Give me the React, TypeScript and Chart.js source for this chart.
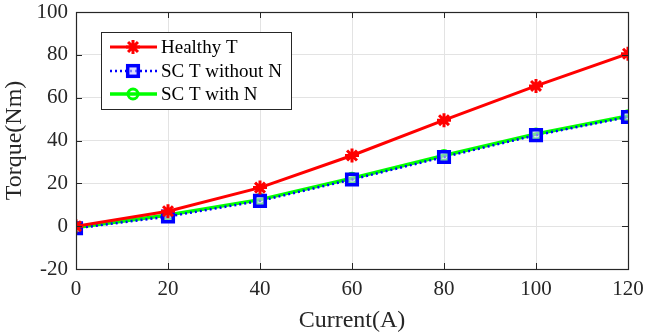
import React, { useEffect, useRef } from "react";
import { Chart, registerables } from "chart.js";

Chart.register(...registerables);

const currents = [0, 20, 40, 60, 80, 100, 120];
const healthyT = [0, 7, 18, 33, 49.5, 65.5, 80.5];
const scWithoutN = [-1, 4.5, 11.8, 21.8, 32.3, 42.5, 51];
const scWithN = [-0.6, 5.2, 12.4, 22.4, 33, 43, 51.5];
const xTicks = [0, 20, 40, 60, 80, 100, 120];
const yTicks = [-20, 0, 20, 40, 60, 80, 100];
const seriesNames = ["Healthy T", "SC T without N", "SC T with N"];

const FONT = '"Liberation Serif", "Times New Roman", serif';

const boxPlugin = {
  id: "boxAndLegend",
  afterDatasetsDraw(chart: any) {
    const { ctx, chartArea } = chart;
    const { left, right, top, bottom } = chartArea;
    ctx.save();
    ctx.strokeStyle = "#262626";
    ctx.lineWidth = 1;
    const xs = chart.scales.x;
    const ys = chart.scales.y;
    ctx.beginPath();
    xTicks.forEach((v) => {
      const px = Math.round(xs.getPixelForValue(v)) + 0.5;
      ctx.moveTo(px, bottom);
      ctx.lineTo(px, bottom - 6);
      ctx.moveTo(px, top);
      ctx.lineTo(px, top + 6);
    });
    yTicks.forEach((v) => {
      const py = Math.round(ys.getPixelForValue(v)) + 0.5;
      ctx.moveTo(left, py);
      ctx.lineTo(left + 6, py);
      ctx.moveTo(right, py);
      ctx.lineTo(right - 6, py);
    });
    ctx.stroke();
    ctx.lineWidth = 1.2;
    ctx.strokeStyle = "#262626";
    ctx.strokeRect(left + 0.5, top + 0.5, right - left, bottom - top);

    // legend
    const lx = 101, ly = 32, lw = 190, lh = 77;
    ctx.fillStyle = "#ffffff";
    ctx.fillRect(lx, ly, lw, lh);
    ctx.strokeStyle = "#262626";
    ctx.lineWidth = 1;
    ctx.strokeRect(lx + 0.5, ly + 0.5, lw, lh);
    const rows = [ly + 15, ly + 39, ly + 62];
    chart.data.datasets.forEach((ds: any, i: number) => {
      const y = rows[i];
      ctx.save();
      ctx.strokeStyle = ds.borderColor;
      ctx.lineWidth = ds.borderWidth;
      ctx.setLineDash(ds.borderDash || []);
      ctx.beginPath();
      ctx.moveTo(lx + 9, y);
      ctx.lineTo(lx + 56, y);
      ctx.stroke();
      ctx.restore();
      const cx = lx + 32;
      ctx.save();
      ctx.strokeStyle = ds.pointBorderColor;
      ctx.lineWidth = ds.pointBorderWidth;
      if (ds.pointStyle === "star") {
        const r = ds.pointRadius;
        ctx.beginPath();
        for (let k = 0; k < 4; k++) {
          const a = (k * Math.PI) / 4;
          ctx.moveTo(cx - r * Math.cos(a), y - r * Math.sin(a));
          ctx.lineTo(cx + r * Math.cos(a), y + r * Math.sin(a));
        }
        ctx.stroke();
      } else if (ds.pointStyle === "rect") {
        const r = ds.pointRadius / Math.SQRT2;
        ctx.fillStyle = ds.pointBackgroundColor;
        ctx.fillRect(cx - r, y - r, 2 * r, 2 * r);
        ctx.strokeRect(cx - r, y - r, 2 * r, 2 * r);
      } else {
        ctx.beginPath();
        ctx.arc(cx, y, ds.pointRadius, 0, Math.PI * 2);
        ctx.fillStyle = ds.pointBackgroundColor;
        ctx.fill();
        ctx.stroke();
      }
      ctx.restore();
      ctx.fillStyle = "#000000";
      ctx.font = `19px ${FONT}`;
      ctx.textBaseline = "middle";
      ctx.textAlign = "left";
      ctx.fillText(seriesNames[i], lx + 60, y + 1);
    });
    ctx.restore();
  },
};

export default function App() {
  const ref = useRef<HTMLCanvasElement>(null);
  useEffect(() => {
    document.body.style.margin = "0";
    const canvas = ref.current!;
    const chart = new Chart(canvas, {
      type: "line",
      data: {
        datasets: [
          {
            label: seriesNames[0],
            data: currents.map((x, i) => ({ x, y: healthyT[i] })),
            borderColor: "#ff0000",
            backgroundColor: "#ff0000",
            borderWidth: 3,
            pointStyle: "star",
            pointRadius: 7,
            pointBorderColor: "#ff0000",
            pointBackgroundColor: "#ff0000",
            pointBorderWidth: 3,
          },
          {
            label: seriesNames[1],
            data: currents.map((x, i) => ({ x, y: scWithoutN[i] })),
            borderColor: "#0000ff",
            backgroundColor: "#0000ff",
            borderWidth: 2.5,
            borderDash: [2, 3],
            pointStyle: "rect",
            pointRadius: 7.5,
            pointBorderColor: "#0000ff",
            pointBackgroundColor: "rgba(200,200,255,0.6)",
            pointBorderWidth: 3.5,
          },
          {
            label: seriesNames[2],
            data: currents.map((x, i) => ({ x, y: scWithN[i] })),
            borderColor: "#00ff00",
            backgroundColor: "#00ff00",
            borderWidth: 3.5,
            pointStyle: "circle",
            pointRadius: 5,
            pointBorderColor: "#00ff00",
            pointBackgroundColor: "rgba(255,255,255,0)",
            pointBorderWidth: 3,
          },
        ],
      },
      options: {
        animation: false,
        responsive: false,
        maintainAspectRatio: false,
        layout: { padding: { top: 12, right: 17, left: 0, bottom: 0 } },
        plugins: { legend: { display: false }, tooltip: { enabled: false } },
        scales: {
          x: {
            type: "linear",
            min: 0,
            max: 120,
            afterBuildTicks: (s: any) => {
              s.ticks = xTicks.map((v) => ({ value: v }));
            },
            afterFit: (s: any) => {
              s.height = 66;
              s.paddingLeft = 0;
              s.paddingRight = 0;
            },
            grid: { color: "#e3e3e3", drawTicks: false, lineWidth: 1 },
            border: { display: false },
            ticks: {
              color: "#262626",
              font: { family: FONT, size: 21 },
              padding: 8,
              maxRotation: 0,
            },
            title: {
              display: true,
              text: "Current(A)",
              color: "#262626",
              font: { family: FONT, size: 24 },
              padding: { top: 2, bottom: 0 },
            },
          },
          y: {
            type: "linear",
            min: -20,
            max: 100,
            afterBuildTicks: (s: any) => {
              s.ticks = yTicks.map((v) => ({ value: v }));
            },
            afterFit: (s: any) => {
              s.width = 76;
              s.paddingTop = 0;
              s.paddingBottom = 0;
            },
            grid: { color: "#e3e3e3", drawTicks: false, lineWidth: 1 },
            border: { display: false },
            ticks: {
              color: "#262626",
              font: { family: FONT, size: 21 },
              padding: 8,
            },
            title: {
              display: true,
              text: "Torque(Nm)",
              color: "#262626",
              font: { family: FONT, size: 24 },
              padding: { top: 0, bottom: 2 },
            },
          },
        },
      },
      plugins: [boxPlugin],
    } as any);
    let alive = true;
    if ((document as any).fonts && (document as any).fonts.load) {
      (document as any).fonts
        .load('20px "Liberation Serif"')
        .then(() => {
          if (alive) chart.update();
        })
        .catch(() => {});
    }
    return () => {
      alive = false;
      chart.destroy();
    };
  }, []);
  return (
    <div style={{ width: 645, height: 335, background: "#fff" }}>
      <canvas ref={ref} width={645} height={335} style={{ display: "block" }} />
    </div>
  );
}
